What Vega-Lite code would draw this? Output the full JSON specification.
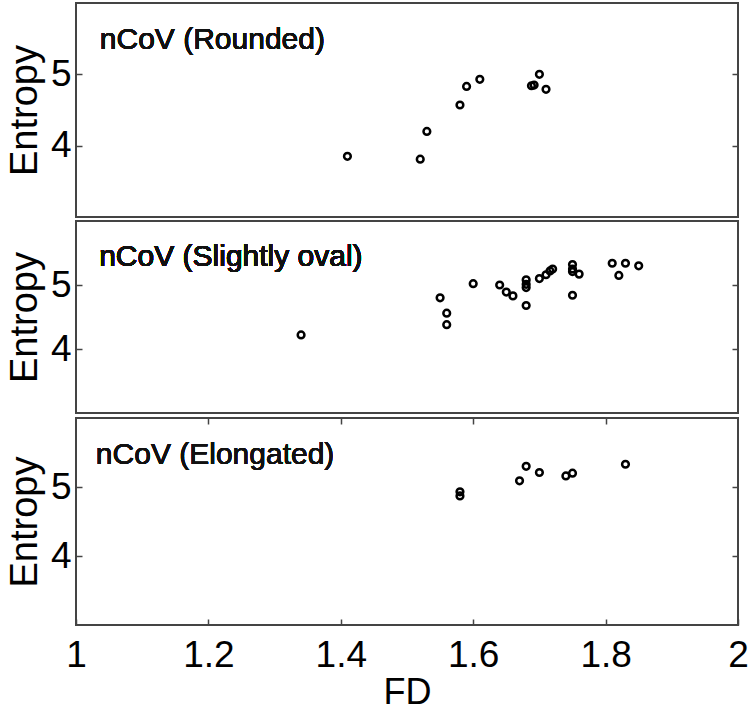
{
  "$schema": "https://vega.github.io/schema/vega-lite/v6.json",
  "padding": {"left": 5, "top": 2, "right": 0, "bottom": 0},
  "background": "white",
  "config": {
    "view": {"stroke": "#444", "strokeWidth": 2},
    "font": "Liberation Sans",
    "axis": {"grid": false, "domain": false, "tickColor": "#444", "tickWidth": 1.5, "tickSize": -6,
      "labelFont": "Liberation Sans", "labelFontSize": 37, "labelColor": "#000",
      "titleFont": "Liberation Sans", "titleFontSize": 38, "titleFontWeight": "normal", "titleColor": "#000"},
    "concat": {"spacing": 2}
  },
  "vconcat": [
    {
      "width": 662, "height": 214,
      "data": {"values": [
        {"FD": 1.41, "Entropy": 3.85}, {"FD": 1.52, "Entropy": 3.81}, {"FD": 1.53, "Entropy": 4.20},
        {"FD": 1.58, "Entropy": 4.57}, {"FD": 1.59, "Entropy": 4.83}, {"FD": 1.61, "Entropy": 4.93},
        {"FD": 1.70, "Entropy": 5.00}, {"FD": 1.688, "Entropy": 4.84}, {"FD": 1.692, "Entropy": 4.85},
        {"FD": 1.71, "Entropy": 4.79}
      ]},
      "layer": [
        {"mark": {"type": "point", "shape": "circle", "filled": false, "color": "#000", "strokeWidth": 2.5, "size": 45, "opacity": 1},
         "encoding": {
           "x": {"field": "FD", "type": "quantitative", "scale": {"domain": [1, 2], "nice": false, "zero": false}, "axis": null},
           "y": {"field": "Entropy", "type": "quantitative", "scale": {"domain": [3, 6], "nice": false, "zero": false},
                 "axis": {"title": "Entropy", "values": [4, 5], "labelPadding": 11, "titlePadding": 6}}
         }},
        {"mark": {"type": "text", "font": "Liberation Sans", "fontSize": 30, "align": "left", "baseline": "alphabetic", "color": "#111"},
         "encoding": {
           "x": {"datum": 1.036, "type": "quantitative", "axis": null},
           "y": {"datum": 5.355, "type": "quantitative", "axis": {"orient": "right", "title": null, "labels": false, "values": [4, 5]}},
           "text": {"value": "nCoV (Rounded)"}
         }}
      ],
      "resolve": {"axis": {"y": "independent"}}
    },
    {
      "width": 662, "height": 192,
      "data": {"values": [
        {"FD": 1.34, "Entropy": 4.22}, {"FD": 1.55, "Entropy": 4.80}, {"FD": 1.56, "Entropy": 4.56},
        {"FD": 1.56, "Entropy": 4.38}, {"FD": 1.60, "Entropy": 5.02}, {"FD": 1.64, "Entropy": 5.00},
        {"FD": 1.65, "Entropy": 4.89}, {"FD": 1.66, "Entropy": 4.83}, {"FD": 1.68, "Entropy": 5.08},
        {"FD": 1.68, "Entropy": 5.01}, {"FD": 1.68, "Entropy": 4.96}, {"FD": 1.68, "Entropy": 4.68},
        {"FD": 1.70, "Entropy": 5.10}, {"FD": 1.71, "Entropy": 5.16}, {"FD": 1.716, "Entropy": 5.22},
        {"FD": 1.72, "Entropy": 5.25}, {"FD": 1.75, "Entropy": 5.32}, {"FD": 1.75, "Entropy": 5.25},
        {"FD": 1.75, "Entropy": 5.21}, {"FD": 1.76, "Entropy": 5.17}, {"FD": 1.75, "Entropy": 4.84},
        {"FD": 1.81, "Entropy": 5.34}, {"FD": 1.83, "Entropy": 5.34}, {"FD": 1.82, "Entropy": 5.15},
        {"FD": 1.85, "Entropy": 5.30}
      ]},
      "layer": [
        {"mark": {"type": "point", "shape": "circle", "filled": false, "color": "#000", "strokeWidth": 2.5, "size": 45, "opacity": 1},
         "encoding": {
           "x": {"field": "FD", "type": "quantitative", "scale": {"domain": [1, 2], "nice": false, "zero": false}, "axis": null},
           "y": {"field": "Entropy", "type": "quantitative", "scale": {"domain": [3, 6], "nice": false, "zero": false},
                 "axis": {"title": "Entropy", "values": [4, 5], "labelPadding": 11, "titlePadding": 6}}
         }},
        {"mark": {"type": "text", "font": "Liberation Sans", "fontSize": 30, "align": "left", "baseline": "alphabetic", "color": "#111"},
         "encoding": {
           "x": {"datum": 1.035, "type": "quantitative", "axis": null},
           "y": {"datum": 5.29, "type": "quantitative", "axis": {"orient": "right", "title": null, "labels": false, "values": [4, 5]}},
           "text": {"value": "nCoV (Slightly oval)"}
         }}
      ],
      "resolve": {"axis": {"y": "independent"}}
    },
    {
      "width": 662, "height": 207,
      "data": {"values": [
        {"FD": 1.58, "Entropy": 4.93}, {"FD": 1.58, "Entropy": 4.87},
        {"FD": 1.67, "Entropy": 5.09}, {"FD": 1.68, "Entropy": 5.30}, {"FD": 1.70, "Entropy": 5.21},
        {"FD": 1.74, "Entropy": 5.16}, {"FD": 1.75, "Entropy": 5.20}, {"FD": 1.83, "Entropy": 5.33}
      ]},
      "layer": [
        {"mark": {"type": "point", "shape": "circle", "filled": false, "color": "#000", "strokeWidth": 2.5, "size": 45, "opacity": 1},
         "encoding": {
           "x": {"field": "FD", "type": "quantitative", "scale": {"domain": [1, 2], "nice": false, "zero": false},
                 "axis": {"title": "FD", "values": [1, 1.2, 1.4, 1.6, 1.8, 2], "format": "~g", "labelPadding": 18, "titlePadding": 2, "titleFontSize": 36, "labelFlush": false}},
           "y": {"field": "Entropy", "type": "quantitative", "scale": {"domain": [3, 6], "nice": false, "zero": false},
                 "axis": {"title": "Entropy", "values": [4, 5], "labelPadding": 11, "titlePadding": 6}}
         }},
        {"mark": {"type": "text", "font": "Liberation Sans", "fontSize": 30, "align": "left", "baseline": "alphabetic", "color": "#111"},
         "encoding": {
           "x": {"datum": 1.03, "type": "quantitative", "axis": {"orient": "top", "title": null, "labels": false, "values": [1.2, 1.4, 1.6, 1.8]}},
           "y": {"datum": 5.33, "type": "quantitative", "axis": {"orient": "right", "title": null, "labels": false, "values": [4, 5]}},
           "text": {"value": "nCoV (Elongated)"}
         }}
      ],
      "resolve": {"axis": {"y": "independent", "x": "independent"}}
    }
  ]
}
